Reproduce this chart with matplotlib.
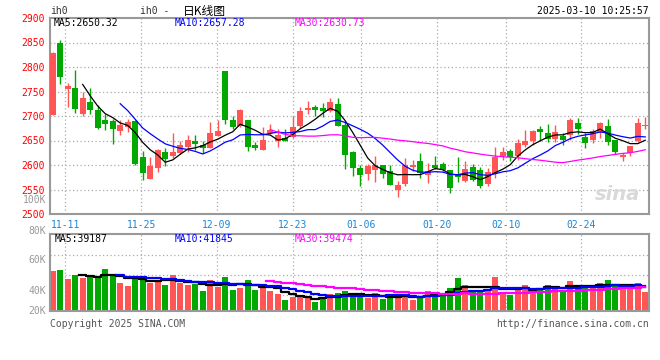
import matplotlib
matplotlib.use("Agg")
import matplotlib.pyplot as plt
import numpy as np

# daily K data, 80 sessions (11-08 .. 03-10)
opens = [2703, 2849, 2756, 2757, 2704, 2728, 2712, 2691, 2690, 2670,
         2678, 2690, 2616, 2572, 2594, 2627, 2618, 2625, 2637, 2649,
         2640, 2635, 2660, 2792, 2691, 2680, 2692, 2641, 2631, 2665,
         2650, 2655, 2658, 2680, 2713, 2718, 2716, 2710, 2725, 2682,
         2627, 2594, 2582, 2589, 2600, 2588, 2548, 2562, 2595, 2608,
         2579, 2600, 2602, 2589, 2582, 2568, 2596, 2590, 2562, 2582,
         2619, 2629, 2619, 2641, 2649, 2674, 2665, 2654, 2660, 2661,
         2686, 2657, 2652, 2667, 2680, 2651, 2617, 2625, 2649, 2680]
highs = [2830, 2855, 2768, 2794, 2749, 2757, 2722, 2704, 2693, 2692,
         2693, 2691, 2629, 2617, 2632, 2635, 2665, 2649, 2661, 2661,
         2650, 2688, 2692, 2792, 2701, 2715, 2692, 2647, 2678, 2684,
         2674, 2673, 2699, 2718, 2731, 2723, 2727, 2737, 2736, 2687,
         2628, 2600, 2602, 2619, 2601, 2600, 2567, 2614, 2610, 2625,
         2604, 2618, 2606, 2590, 2616, 2608, 2603, 2595, 2593, 2637,
         2637, 2632, 2653, 2671, 2671, 2680, 2683, 2682, 2665, 2696,
         2696, 2665, 2674, 2688, 2694, 2651, 2625, 2639, 2696, 2698]
lows = [2702, 2766, 2719, 2707, 2700, 2704, 2674, 2672, 2642, 2662,
        2668, 2601, 2570, 2571, 2586, 2597, 2615, 2622, 2627, 2631,
        2625, 2634, 2659, 2684, 2673, 2678, 2629, 2630, 2630, 2664,
        2637, 2648, 2656, 2676, 2704, 2701, 2697, 2709, 2680, 2591,
        2578, 2557, 2570, 2566, 2574, 2559, 2535, 2557, 2588, 2574,
        2563, 2592, 2587, 2542, 2565, 2566, 2568, 2553, 2557, 2574,
        2611, 2609, 2610, 2637, 2640, 2648, 2646, 2647, 2641, 2652,
        2664, 2635, 2645, 2656, 2640, 2622, 2609, 2618, 2646, 2674]
closes = [2829, 2780, 2762, 2714, 2737, 2713, 2676, 2684, 2674, 2682,
          2688, 2603, 2584, 2598, 2630, 2613, 2627, 2641, 2651, 2643,
          2635, 2665, 2669, 2692, 2678, 2712, 2637, 2635, 2651, 2671,
          2661, 2650, 2678, 2710, 2716, 2713, 2710, 2729, 2680, 2620,
          2593, 2580, 2598, 2601, 2582, 2560, 2559, 2601, 2599, 2583,
          2588, 2593, 2589, 2554, 2576, 2592, 2570, 2558, 2586, 2616,
          2627, 2616, 2645, 2650, 2669, 2667, 2653, 2667, 2652, 2692,
          2674, 2645, 2669, 2686, 2646, 2627, 2620, 2639, 2686, 2681]
volumes = [68800, 70500, 55000, 61900, 56700, 60200, 60200, 72200, 63600, 48100,
           43000, 58400, 58400, 48100, 53300, 44700, 61900, 48100, 44700, 46400,
           34400, 53300, 41300, 58400, 36100, 39500, 53300, 36100, 41300, 34400,
           29200, 18900, 24100, 25800, 22300, 15500, 24100, 30000, 30900, 34400,
           27500, 25200, 21800, 30900, 21200, 25200, 21800, 29800, 18900, 25800,
           34400, 32700, 29200, 39500, 56700, 44700, 35500, 32700, 35500, 58400,
           30900, 28100, 35500, 44700, 37800, 39500, 44700, 39500, 35500, 51600,
           44700, 39500, 39500, 48100, 53300, 46400, 37800, 37800, 48100, 32700]

date_labels = ["11-11", "11-25", "12-09", "12-23", "01-06", "01-20", "02-10", "02-24"]
price_ticks = [2500, 2550, 2600, 2650, 2700, 2750, 2800, 2850, 2900]
ma_price_text = ["MA5:2650.32", "MA10:2657.28", "MA30:2630.73"]
ma_vol_text = ["MA5:39187", "MA10:41845", "MA30:39474"]
vol_labels = ["100K", "80K", "60K", "40K", "20K"]

UP = "#ff5555"
DOWN = "#00a800"
GRID = "#aaaaaa"
FRAME = "#999999"
MONO = "DejaVu Sans Mono"
MA_COLORS = ["black", "#0000ff", "#ff00ff"]

W, H = 660, 360


def box(l, t, r, b):
    return [l/W, 1 - b/H, (r - l)/W, (b - t)/H]


def moving_avg(vals, n):
    v = np.asarray(vals, dtype=float)
    out = np.full(len(v), np.nan)
    out[n-1:] = np.convolve(v, np.ones(n)/n, mode="valid")
    return out


o = np.array(opens, float)
c = np.array(closes, float)
x = np.arange(len(closes))
up = c >= o
colors = np.where(up, UP, DOWN)

# gridline positions in candle units (sina's ticks drift slightly)
date_pos = [1.7, 11.8, 21.9, 32.0, 41.1, 51.2, 60.4, 70.5]
VPX = 1720  # lots per pixel in the volume pane

fig = plt.figure(figsize=(6.6, 3.6), dpi=100)
fig.patch.set_facecolor("white")

ax = fig.add_axes(box(50, 18, 649, 214))
axv = fig.add_axes(box(50, 234, 649, 311))

for a in (ax, axv):
    a.set_xlim(-0.36, 79.5)
    for s in a.spines.values():
        s.set_color(FRAME)
        s.set_linewidth(1.5)
    for p in date_pos:
        a.axvline(p, color=GRID, lw=0.9, ls=(0, (1, 2)), zorder=0)

# price pane
ax.set_ylim(2500, 2900)
for p in price_ticks[1:-1]:
    ax.axhline(p, color=GRID, lw=0.9, ls=(0, (1, 2)), zorder=0)
ax.vlines(x, lows, highs, colors=colors, lw=1, zorder=2)
body = np.maximum(np.abs(c - o), 1.2)
ax.bar(x, body, bottom=np.minimum(o, c), width=0.8, color=colors, lw=0, zorder=3)
for n, col in zip((5, 10, 30), MA_COLORS):
    ax.plot(x, moving_avg(closes, n), color=col, lw=0.9, zorder=4)

ax.set_yticks(price_ticks)
ax.set_yticklabels([str(p) for p in price_ticks], color="#ff0000", family=MONO, fontsize=7)
ax.set_xticks(date_pos)
ax.set_xticklabels(date_labels, color="#1a86d8", family=MONO, fontsize=7)
ax.tick_params(length=0, pad=4)

for txt, col, px in zip(ma_price_text, MA_COLORS, (54, 175, 295)):
    fig.text(px/W, 1 - 23.5/H, txt, color=col, family=MONO, fontsize=7, va="center")

ax.text(0.985, 0.1, "sina", transform=ax.transAxes, ha="right", va="center",
        fontsize=14, fontweight="bold", style="italic", color="#d9d9d9", zorder=1)

# volume pane
axv.set_ylim(0, 77*VPX)
for ypx in (295, 275, 255):
    axv.axhline((311 - ypx)*VPX, color=GRID, lw=0.9, ls=(0, (1, 2)), zorder=0)
axv.bar(x, volumes, width=0.8, color=colors, lw=0, zorder=2)
for n, col in zip((5, 10, 30), MA_COLORS):
    axv.plot(x, moving_avg(volumes, n), color=col, lw=1.6, drawstyle="steps-mid", zorder=3)
axv.set_xticks([])
axv.set_yticks([])

for txt, col, px in zip(ma_vol_text, MA_COLORS, (55, 175, 295)):
    fig.text(px/W, 1 - 238.5/H, txt, color=col, family=MONO, fontsize=7, va="center")

for txt, ypx in zip(vol_labels, (200, 231, 260, 291, 311)):
    fig.text(46/W, 1 - ypx/H, txt, color="#999999", family=MONO, fontsize=7,
             ha="right", va="center")

# header / footer
fig.text(50/W, 1 - 11.5/H, "ih0", family=MONO, fontsize=7, va="center", color="#333333")
fig.text(140/W, 1 - 11/H, "ih0 - ", family=MONO, fontsize=7, va="center", color="#333333")
fig.text(183/W, 1 - 11/H, "日K线图", family=["Noto Sans CJK SC", "DejaVu Sans"],
         fontsize=8.5, va="center", color="black")
fig.text(649/W, 1 - 11.5/H, "2025-03-10 10:25:57", family=MONO, fontsize=7,
         ha="right", va="center", color="black")
fig.text(50/W, 1 - 324/H, "Copyright 2025 SINA.COM", family=MONO, fontsize=7,
         va="center", color="#555555")
fig.text(649/W, 1 - 324/H, "http://finance.sina.com.cn", family=MONO, fontsize=7,
         ha="right", va="center", color="#555555")

fig.savefig("out.png", dpi=100)
plt.close(fig)
